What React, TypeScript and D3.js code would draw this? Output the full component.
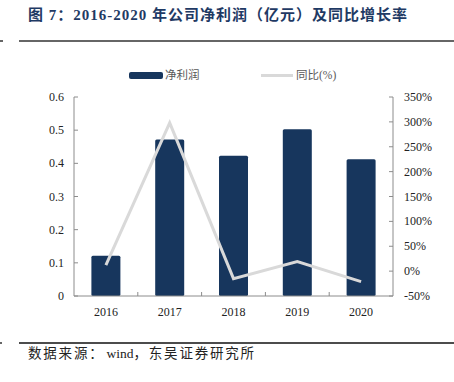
import React from "react";
import * as d3 from "d3";

const years = ["2016", "2017", "2018", "2019", "2020"];
const profit = [0.121, 0.472, 0.423, 0.503, 0.412];
const yoy = [12, 298, -15, 19, -21];
const leftTicks = [0, 0.1, 0.2, 0.3, 0.4, 0.5, 0.6];
const rightTicks = [-50, 0, 50, 100, 150, 200, 250, 300, 350];

const W = 454, H = 382;
const M = { left: 74, right: 393, top: 97, bottom: 296 };
const serif = "'Liberation Serif', 'Times New Roman', 'Noto Sans CJK SC', serif";
const cjk = "'Liberation Serif', 'Noto Sans CJK SC', serif";

export default function App() {
  const x = d3.scaleBand<string>().domain(years).range([M.left, M.right]).paddingInner(0).paddingOuter(0);
  const yL = d3.scaleLinear().domain([0, 0.6]).range([M.bottom, M.top]);
  const yR = d3.scaleLinear().domain([-50, 350]).range([M.bottom, M.top]);
  const bw = 29;
  const line = d3.line<number>().x((_, i) => (x(years[i]) as number) + x.bandwidth() / 2).y((d) => yR(d));
  const axisColor = "#8c8c8c";
  return (
    <svg width={W} height={H} style={{ position: "absolute", left: 0, top: 0, background: "#fff" }}>
      <text x={28} y={20} fontFamily={cjk} fontWeight="bold" fontSize={15} letterSpacing={1} fill="#1f3a64">
        图 7：2016-2020 年公司净利润（亿元）及同比增长率
      </text>
      <line x1={19} x2={454} y1={41} y2={41} stroke="#333" strokeWidth={1.5} />
      <line x1={0} x2={3} y1={41} y2={41} stroke="#333" strokeWidth={1.5} />

      {/* legend */}
      <rect x={129} y={72} width={34} height={7} rx={2} fill="#17365d" />
      <text x={165} y={79} fontFamily={cjk} fontSize={11.5} fill="#595959">净利润</text>
      <line x1={261} x2={293} y1={75.5} y2={75.5} stroke="#d9d9d9" strokeWidth={3} />
      <text x={296} y={79} fontFamily={cjk} fontSize={11.5} fill="#595959">同比(%)</text>

      {/* bars */}
      {profit.map((v, i) => (
        <rect key={i} x={(x(years[i]) as number) + x.bandwidth() / 2 - bw / 2} y={yL(v)} width={bw}
          height={yL(0) - yL(v)} rx={1.5} fill="#17365d" />
      ))}

      {/* axes */}
      <line x1={M.left} x2={M.left} y1={M.top} y2={M.bottom} stroke={axisColor} />
      <line x1={M.right} x2={M.right} y1={M.top} y2={M.bottom} stroke={axisColor} />
      <line x1={M.left} x2={M.right} y1={M.bottom} y2={M.bottom} stroke={axisColor} />
      {leftTicks.map((t) => (
        <g key={"l" + t}>
          <line x1={M.left} x2={M.left + 4} y1={yL(t)} y2={yL(t)} stroke={axisColor} />
          <text x={64} y={yL(t) + 4} textAnchor="end" fontFamily={serif} fontSize={12} fill="#222">{String(t)}</text>
        </g>
      ))}
      {rightTicks.map((t) => (
        <g key={"r" + t}>
          <line x1={M.right - 4} x2={M.right} y1={yR(t)} y2={yR(t)} stroke={axisColor} />
          <text x={404} y={yR(t) + 4} fontFamily={serif} fontSize={12} fill="#222">{t + "%"}</text>
        </g>
      ))}
      {years.map((yr, i) => (
        <g key={yr}>
          {i > 0 && <line x1={x(yr) as number} x2={x(yr) as number} y1={M.bottom} y2={M.bottom - 4} stroke={axisColor} />}
          <text x={(x(yr) as number) + x.bandwidth() / 2} y={316} textAnchor="middle" fontFamily={serif} fontSize={12} fill="#222">{yr}</text>
        </g>
      ))}

      {/* line */}
      <path d={line(yoy) as string} fill="none" stroke="#d9d9d9" strokeWidth={3} strokeLinejoin="miter" />

      <line x1={19} x2={454} y1={343} y2={343} stroke="#111" strokeWidth={1.5} />
      <line x1={0} x2={2} y1={343} y2={343} stroke="#333" strokeWidth={1.5} />
      <text x={28} y={358} fontFamily={cjk} fontSize={13.5} fill="#222">
        <tspan letterSpacing={1.8}>数据来源：</tspan>
        <tspan dx={2}>wind</tspan>
        <tspan letterSpacing={1.8}>，东吴证券研究所</tspan>
      </text>
    </svg>
  );
}
